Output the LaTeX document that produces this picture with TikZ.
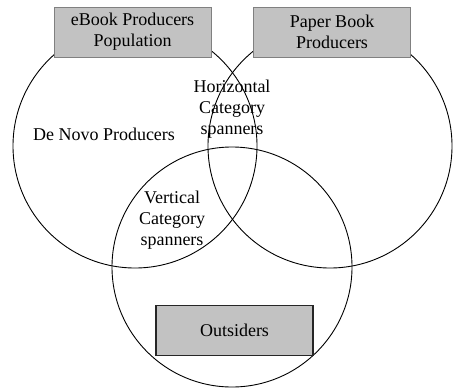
\documentclass[tikz,border=0pt]{standalone}
\usepackage{fontspec}
\setmainfont{Liberation Serif}
\begin{document}
\begin{tikzpicture}[x=1pt,y=-1pt,
  ring/.style={circle,draw=black,line width=0.9pt,inner sep=0pt},
  graybox/.style={draw=black!50,fill=black!24,line width=0.9pt,minimum width=157pt,minimum height=50pt,inner sep=0pt,align=center,font=\fontsize{18}{21}\selectfont},
  darkbox/.style={graybox,draw=black!85,line width=1.2pt},
  lbl/.style={align=center,font=\fontsize{18}{21}\selectfont,inner sep=0pt}]
\useasboundingbox (0,0) rectangle (454,388);
\node[ring,minimum size=244pt] (ebook) at (135,146) {};
\node[ring,minimum size=244pt] (paper) at (330,146) {};
\node[ring,minimum size=240pt] (outer) at (232,267) {};
\node[graybox] (ebookbox) at (132.5,32) {eBook Producers\\Population};
\node[graybox] (paperbox) at (332,32) {Paper Book\\Producers};
\node[darkbox] (outbox) at (234.5,330.5) {Outsiders};
\node[lbl] (denovo) at (104,134) {De Novo Producers};
\node[lbl] (horiz) at (232,109) {Horizontal\\Category\\spanners};
\node[lbl] (vert) at (172,220) {Vertical\\Category\\spanners};
\end{tikzpicture}
\end{document}
